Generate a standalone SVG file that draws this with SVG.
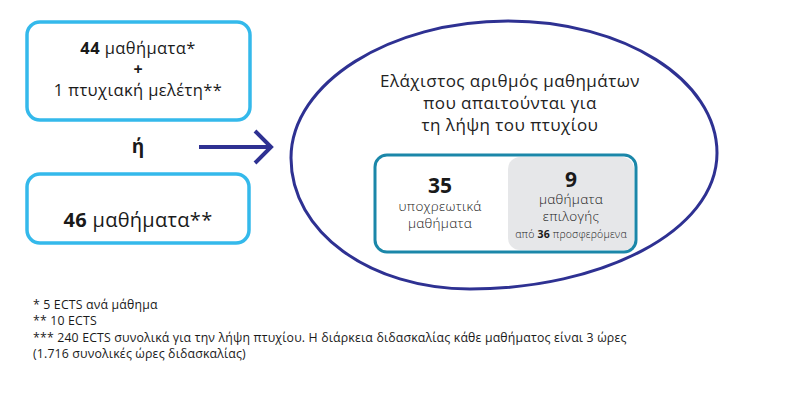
<svg xmlns="http://www.w3.org/2000/svg" width="800" height="407" viewBox="0 0 800 407">
<style>
text{font-family:"Open Sans","Noto Sans","DejaVu Sans",sans-serif;fill:#1a1a1a;text-anchor:middle}
.box{fill:#fff;stroke:#34b9eb;stroke-width:3.5}
.b{font-weight:700}
.l{font-weight:300}
.e{font-size:17px;letter-spacing:0.45px;font-weight:400;fill:#222}
.fn{text-anchor:start;font-size:12.3px;letter-spacing:0.17px;font-weight:400}
</style>
<rect width="800" height="407" fill="#fff"/>
<g id="node-44">
<rect class="box" x="27" y="22" width="223" height="98" rx="13"/>
<text x="138" y="54" font-size="16.5" letter-spacing="0.4"><tspan class="b">44</tspan> μαθήματα*</text>
<text x="138" y="75" font-size="16" class="b">+</text>
<text x="138" y="96" font-size="16.5" letter-spacing="0.4">1 πτυχιακή μελέτη**</text>
</g>
<g id="node-or">
<text x="138" y="153" font-size="19" class="b">ή</text>
</g>
<g id="node-46">
<rect class="box" x="27" y="174" width="222" height="69" rx="13"/>
<text x="138" y="227" font-size="20" letter-spacing="0.3"><tspan class="b">46</tspan> μαθήματα**</text>
</g>
<g id="connectors">
<path d="M199 147 H271 M255 131 L271 147 L255 163" fill="none" stroke="#2e3192" stroke-width="4"/>
</g>
<g id="node-total">
<path d="M508 21 C624 21 717 80 717 153 C717 232 600 289 470 289 C370 289 291 232 291 158 C291 83 390 21 508 21 Z" fill="none" stroke="#2e3192" stroke-width="3"/>
<text x="510" y="87" class="e">Ελάχιστος αριθμός μαθημάτων</text>
<text x="510" y="109" class="e">που απαιτούνται για</text>
<text x="510" y="131" class="e">τη λήψη του πτυχίου</text>
</g>
<g id="node-breakdown">
<rect x="375" y="155" width="261" height="97" rx="12" fill="#fff"/>
<path d="M520 157 H622 A12 12 0 0 1 634 169 V250 H520 A12 12 0 0 1 508 238 V169 A12 12 0 0 1 520 157 Z" fill="#e6e7e9"/>
<rect x="375" y="155" width="261" height="97" rx="12" fill="none" stroke="#1b87a9" stroke-width="3"/>
<text x="440" y="193" font-size="21" class="b">35</text>
<text x="440" y="211" font-size="13.5" letter-spacing="0.3" class="l">υποχρεωτικά</text>
<text x="440" y="228" font-size="13.5" letter-spacing="0.3" class="l">μαθήματα</text>
<text x="571" y="187" font-size="21" class="b">9</text>
<text x="571" y="204" font-size="13.5" letter-spacing="0.3" class="l">μαθήματα</text>
<text x="571" y="221" font-size="13.5" letter-spacing="0.3" class="l">επιλογής</text>
<text x="571" y="238" font-size="10.5" letter-spacing="0.2" class="l">από <tspan class="b">36</tspan> προσφερόμενα</text>
</g>
<g id="footnotes">
<text class="fn" x="33" y="309">* 5 ECTS ανά μάθημα</text>
<text class="fn" x="33" y="325">** 10 ECTS</text>
<text class="fn" x="33" y="342">*** 240 ECTS συνολικά για την λήψη πτυχίου. Η διάρκεια διδασκαλίας κάθε μαθήματος είναι 3 ώρες</text>
<text class="fn" x="33" y="358">(1.716 συνολικές ώρες διδασκαλίας)</text>
</g>
</svg>
